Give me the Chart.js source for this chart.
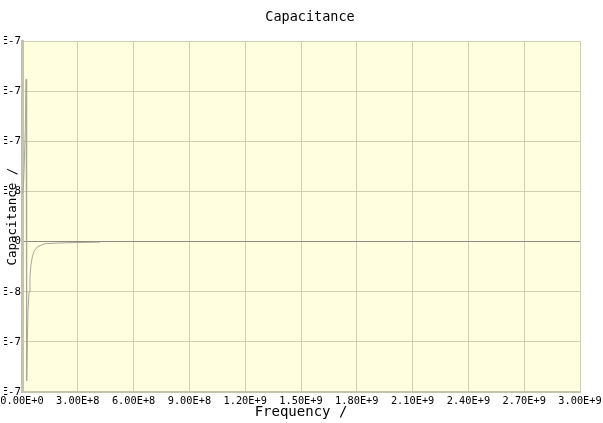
<!DOCTYPE html>
<html>
<head>
<meta charset="utf-8">
<script src="https://cdn.jsdelivr.net/npm/chart.js@4.4.1/dist/chart.umd.min.js"></script>
<style>
  body { margin: 0; background: #fff; }
</style>
</head>
<body>
<canvas id="chart" width="603" height="423"></canvas>
<script>
// values
const frequency = [3.2e6, 8.1e6, 1.24e7, 1.77e7, 2.2e7, 2.5e7, 3.2e7, 3.8e7, 4.3e7, 4.8e7,
    5.5e7, 6.5e7, 8.1e7, 1.02e8, 1.24e8, 1.77e8, 2.58e8, 4.19e8];
const capacitance = [4.85e-8, 5.65e-8, 7.85e-8, 1.12e-7, 1.62e-7, -1.39e-7, -6.9e-8, -5.0e-8, -3.45e-8, -2.35e-8,
    -1.55e-8, -9.5e-9, -5.5e-9, -3.5e-9, -2e-9, -1.5e-9, -1e-9, -5e-10];
const xTicks = [0, 3e8, 6e8, 9e8, 1.2e9, 1.5e9, 1.8e9, 2.1e9, 2.4e9, 2.7e9, 3e9];
const yTicks = [-1.5e-7, -1e-7, -5e-8, 0, 5e-8, 1e-7, 1.5e-7, 2e-7];

const monoFont = '"DejaVu Sans Mono", monospace';

function fmtX(v) {
    return v.toExponential(2).toUpperCase();
}

function fmtY(v) {
    if (v === 0) return '0';
    return v.toExponential(2).toUpperCase();
}

const plotBg = {
    id: 'plotBg',
    afterLayout(chart) {
        // the original title sits a bit right of centre
        if (chart.titleBlock) chart.titleBlock.left += 13;
    },
    beforeDraw(chart) {
        const a = chart.chartArea;
        const ctx = chart.ctx;
        ctx.save();
        ctx.fillStyle = '#ffffe0';
        ctx.fillRect(a.left, a.top, a.right - a.left, a.bottom - a.top);
        ctx.restore();
    }
};

const points = frequency.map((f, i) => ({ x: f, y: capacitance[i] }));

new Chart(document.getElementById('chart'), {
    type: 'line',
    data: {
        datasets: [{
            data: points,
            borderColor: '#a8a898',
            borderWidth: 1,
            pointRadius: 0,
            tension: 0,
            fill: false
        }]
    },
    options: {
        responsive: false,
        animation: false,
        layout: { padding: { left: 4, right: 0, top: 0, bottom: 0 } },
        plugins: {
            legend: { display: false },
            tooltip: { enabled: false },
            title: {
                display: true,
                text: 'Capacitance',
                color: '#000',
                font: { family: monoFont, size: 13.5, weight: 'normal' },
                padding: { top: 9, bottom: 16 }
            }
        },
        scales: {
            x: {
                type: 'linear',
                min: 0,
                max: 3e9,
                afterBuildTicks: s => { s.ticks = xTicks.map(v => ({ value: v })); },
                afterFit: s => {
                    s.height = 31;
                    s.paddingRight = 23;
                    s.paddingLeft = 0;
                },
                ticks: {
                    callback: v => fmtX(v),
                    color: '#000',
                    font: { family: monoFont, size: 10.3 },
                    padding: 3,
                    maxRotation: 0,
                    autoSkip: false
                },
                grid: { color: '#cfcfb4', drawTicks: false },
                border: { color: '#c4c4ac', width: 2 },
                title: {
                    display: true,
                    text: 'Frequency /',
                    color: '#000',
                    font: { family: monoFont, size: 14 },
                    padding: { top: 0, bottom: 2 }
                }
            },
            y: {
                type: 'linear',
                min: -1.5e-7,
                max: 2e-7,
                afterBuildTicks: s => { s.ticks = yTicks.map(v => ({ value: v })); },
                afterFit: s => { s.width = 18; },
                ticks: {
                    callback: v => fmtY(v),
                    color: '#000',
                    font: { family: monoFont, size: 10.8 },
                    padding: 1,
                    autoSkip: false
                },
                grid: {
                    color: c => (c.tick && c.tick.value === 0) ? '#8c8c84' : '#cfcfb4',
                    drawTicks: false
                },
                border: { color: '#c4c4ac', width: 3 },
                title: {
                    display: true,
                    text: 'Capacitance /',
                    color: '#000',
                    font: { family: monoFont, size: 12.5 },
                    padding: { top: 1, bottom: 0 }
                }
            }
        }
    },
    plugins: [plotBg]
});
</script>
</body>
</html>
